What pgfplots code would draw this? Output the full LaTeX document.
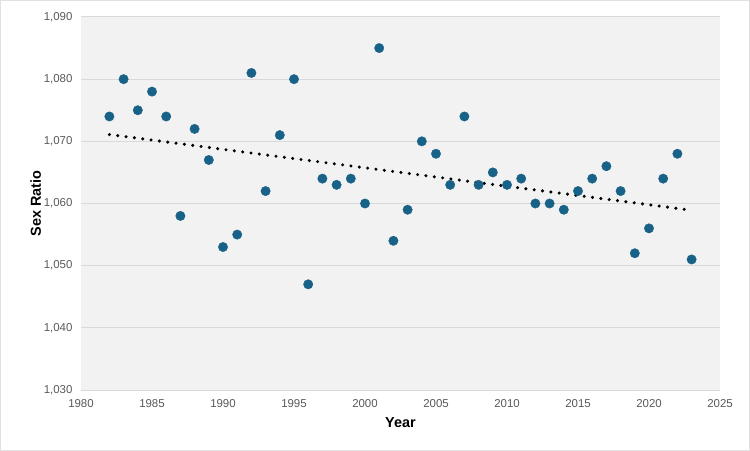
\documentclass[border=0pt]{standalone}
\usepackage{pgfplots}
\usepackage{pgfplotstable}
\pgfplotsset{compat=1.18}
\usepackage{fontspec}
\setmainfont{Liberation Sans}
\setsansfont{Liberation Sans}
\definecolor{mk}{RGB}{24,98,136}
\definecolor{bg}{RGB}{242,242,242}
\definecolor{gridc}{RGB}{217,217,217}
\definecolor{tickc}{RGB}{89,89,89}
\pgfplotstableread{
x y
1982 1074
1983 1080
1984 1075
1985 1078
1986 1074
1987 1058
1988 1072
1989 1067
1990 1053
1991 1055
1992 1081
1993 1062
1994 1071
1995 1080
1996 1047
1997 1064
1998 1063
1999 1064
2000 1060
2001 1085
2002 1054
2003 1059
2004 1070
2005 1068
2006 1063
2007 1074
2008 1063
2009 1065
2010 1063
2011 1064
2012 1060
2013 1060
2014 1059
2015 1062
2016 1064
2017 1066
2018 1062
2019 1052
2020 1056
2021 1064
2022 1068
2023 1051
}\datatable
\pgfplotstablecreatecol[expr={\thisrow{x}-2000}]{xs}\datatable
\pgfplotstablecreatecol[expr={\thisrow{y}-1060}]{ys}\datatable
\pgfplotstablecreatecol[linear regression={x=xs, y=ys}]{fit}\datatable
\pgfplotstablecreatecol[expr={\thisrow{fit}+1060}]{trend}\datatable
\begin{document}
\begin{tikzpicture}
\useasboundingbox (-81bp,-61bp) rectangle (669bp,390bp);
\draw[gridc!80!white, line width=1bp] (-80.5bp,-60.5bp) rectangle (668.5bp,389.5bp);
\begin{axis}[
  at={(0,0)}, anchor=south west,
  scale only axis, width=639bp, height=373bp,
  xmin=1980, xmax=2025, ymin=1030, ymax=1090,
  xtick={1980,1985,...,2025}, ytick={1030,1040,...,1090},
  axis background/.style={fill=bg},
  axis line style={draw=none},
  major grid style={gridc, line width=1bp},
  ymajorgrids,
  major tick length=0pt,
  /pgf/number format/assume math mode=true,
  tick label style={font=\fontsize{11.5}{13}\selectfont, text=tickc},
  x tick label style={/pgf/number format/1000 sep={}, yshift=-6bp},
  y tick label style={/pgf/number format/1000 sep={,}, xshift=-5bp},
  xlabel={\textbf{Year}}, ylabel={\textbf{Sex Ratio}},
  label style={font=\fontsize{14.5}{16}\selectfont},
  xlabel style={yshift=-3bp},
  ylabel style={yshift=-4bp},
  clip=false,
]
\addplot[color=mk, only marks, mark=*, mark size=4.7bp, mark options={solid, fill=mk, draw=none}] table[x=x, y=y] {\datatable};
\addplot[black, line width=3.4bp, line cap=round, dash pattern=on 0pt off 8.4bp] table[x=x, y=trend] {\datatable};
\end{axis}
\end{tikzpicture}
\end{document}
